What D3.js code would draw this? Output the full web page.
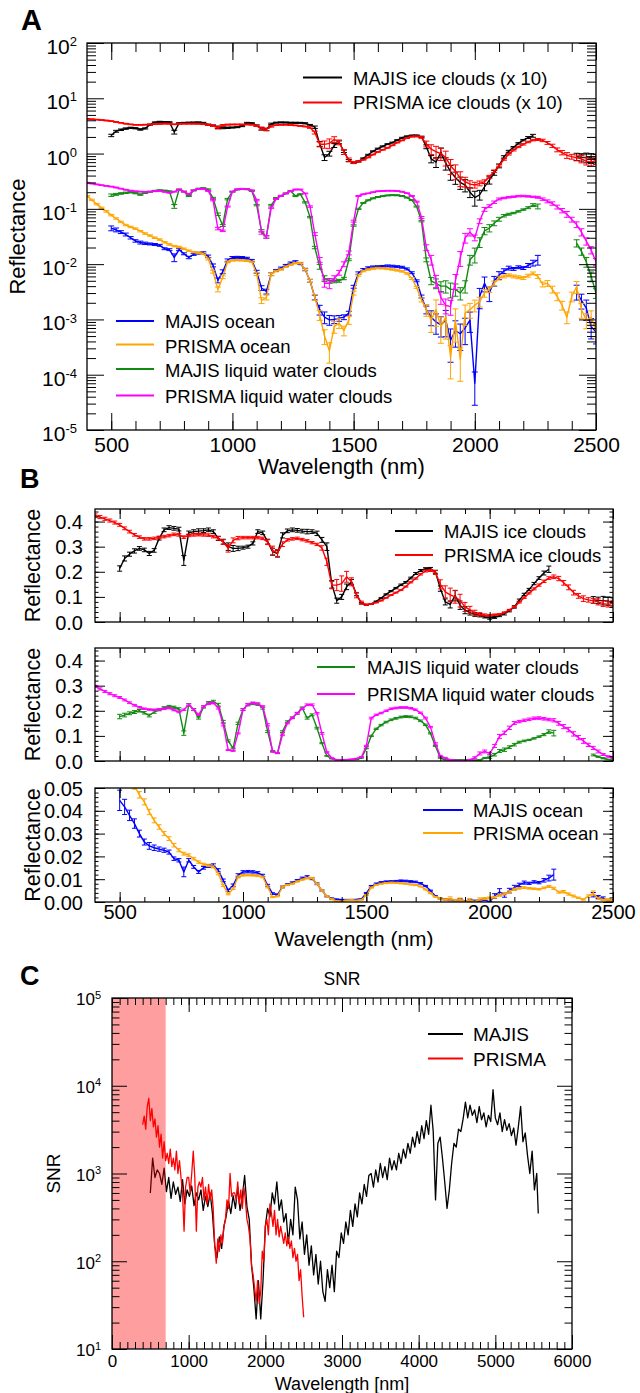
<!DOCTYPE html>
<html><head><meta charset="utf-8">
<script src="https://cdn.jsdelivr.net/npm/d3@7"></script>
<style>body{margin:0;background:#fff}</style>
</head><body><svg id="c" width="640" height="1393"></svg>
<script>
// ---------------- DATA ----------------
const prismaWl = [400,420,440,460,480,500,520,540,560,580,600,620,640,660,680,700,720,740,760,780,800,820,840,860,880,900,920,940,960,980,1000,1020,1040,1060,1080,1100,1120,1140,1160,1180,1200,1220,1240,1260,1280,1300,1320,1340,1360,1380,1400,1420,1440,1460,1480,1500,1520,1540,1560,1580,1600,1620,1640,1660,1680,1700,1720,1740,1760,1780,1800,1820,1840,1860,1880,1900,1920,1940,1960,1980,2000,2020,2040,2060,2080,2100,2120,2140,2160,2180,2200,2220,2240,2260,2280,2300,2320,2340,2360,2380,2400,2420,2440,2460,2480,2500];
const majisWl = [500,520,540,560,580,600,620,640,660,680,700,720,740,760,780,800,820,840,860,880,900,920,940,960,980,1000,1020,1040,1060,1080,1100,1120,1140,1160,1180,1200,1220,1240,1260,1280,1300,1320,1340,1360,1380,1400,1420,1440,1460,1480,1500,1520,1540,1560,1580,1600,1620,1640,1660,1680,1700,1720,1740,1760,1780,1800,1820,1840,1860,1880,1900,1920,1940,1960,1980,2000,2020,2040,2060,2080,2100,2120,2140,2160,2180,2200,2220,2240,2260,2280,2420,2440,2460,2480,2500];

const prismaIce = [.424,.418,.411,.404,.396,.387,.373,.360,.347,.338,
 .331,.331,.333,.337,.340,.344,.349,.347,.338,.345,
 .347,.348,.347,.346,.340,.333,.318,.293,.325,.334,
 .336,.336,.336,.336,.333,.318,.285,.275,.310,.327,
 .331,.333,.328,.323,.316,.309,.295,.240,.147,.147,
 .153,.180,.160,.107,.077,.069,.072,.077,.085,.096,
 .107,.117,.127,.141,.158,.173,.190,.203,.205,.197,
 .150,.120,.108,.100,.085,.060,.048,.036,.031,.028,
 .027,.029,.031,.038,.048,.060,.078,.097,.115,.132,
 .147,.162,.175,.180,.173,.156,.138,.117,.104,.093,
 .088,.084,.080,.073,.070,.075];
const prismaLiquid = [.297,.287,.277,.268,.260,.253,.243,.232,.222,.214,
 .208,.205,.204,.205,.208,.211,.203,.195,.204,.224,
 .205,.184,.217,.228,.231,.211,.144,.044,.040,.110,
 .204,.226,.231,.228,.217,.144,.037,.031,.104,.150,
 .172,.190,.208,.224,.224,.190,.110,.035,.012,.0045,
 .0045,.0055,.007,.010,.016,.060,.171,.184,.191,.200,
 .208,.211,.213,.213,.210,.204,.192,.171,.135,.070,
 .020,.012,.005,.0025,.0018,.0017,.005,.013,.030,.038,
 .030,.060,.098,.112,.132,.151,.157,.162,.166,.170,
 .171,.168,.165,.162,.150,.137,.125,.108,.093,.080,
 .064,.052,.038,.026,.018,.011];
const prismaOcean = [.170,.145,.122,.104,.090,.077,.067,.058,.051,.047,
 .0439,.0395,.0358,.0329,.0300,.0278,.0249,.0227,.0212,.0205,
 .0190,.0175,.0165,.0161,.0154,.0124,.0073,.0035,.0058,.0110,
 .0117,.0118,.0117,.0115,.0110,.0066,.0022,.0025,.0066,.0075,
 .0080,.0090,.0098,.0104,.0105,.0080,.0050,.0025,.0012,.0005,
 .00027,.00074,.00086,.00063,.00097,.0030,.0063,.0075,.0080,.0083,
 .0085,.0084,.0082,.0080,.0077,.0074,.0068,.0055,.0038,.00225,
 .0015,.00097,.0015,.00074,.0011,.00021,.00097,.00019,.0013,.0015,
 .0018,.0021,.0030,.0035,.0045,.0056,.0060,.0063,.0060,.0058,
 .0056,.0062,.0068,.0060,.0043,.0045,.0035,.0026,.0018,.0011,
 .0026,.0039,.0015,.00097,.0011,.00063];
const prismaRelErr = [.015,.015,.015,.015,.015,.015,.015,.015,.015,.015,
 .015,.015,.015,.015,.015,.015,.015,.015,.015,.015,
 .015,.015,.015,.015,.015,.02,.03,.05,.03,.02,
 .015,.015,.015,.015,.015,.03,.06,.05,.03,.015,
 .015,.015,.015,.015,.015,.015,.03,.06,.1,.15,
 .2,.12,.1,.1,.08,.04,.02,.015,.015,.015,
 .015,.015,.015,.015,.015,.015,.015,.02,.02,.04,
 .12,.2,.25,.25,.3,.3,.3,.3,.2,.15,
 .12,.1,.08,.06,.05,.04,.03,.03,.03,.03,
 .03,.03,.03,.04,.05,.06,.07,.08,.09,.12,
 .1,.12,.15,.15,.15,.15];

const majisIce = [.213,.253,.270,.283,.293,.287,.273,.285,.333,.367,
 .376,.373,.370,.245,.355,.360,.362,.364,.367,.360,
 .333,.320,.300,.293,.293,.296,.300,.313,.360,.355,
 .320,.280,.272,.345,.363,.367,.365,.362,.360,.360,
 .353,.327,.300,.150,.085,.100,.140,.160,.110,.075,
 .068,.072,.082,.095,.110,.123,.135,.148,.158,.175,
 .193,.205,.212,.213,.200,.133,.080,.070,.105,.067,
 .047,.037,.030,.027,.020,.016,.018,.025,.033,.045,
 .060,.087,.110,.130,.153,.175,.195,.210,null,null,
 .088,.086,.085,.083,.080];
const majisLiquid = [.177,.183,.190,.195,.200,.192,.181,.195,.204,.212,
 .217,.214,.208,.111,.224,.205,.171,.215,.232,.237,
 .224,.157,.080,.050,.150,.205,.224,.229,.226,.211,
 .117,.040,.031,.117,.157,.172,.190,.211,.171,.184,
 .131,.071,.020,.009,.0055,.005,.005,.005,.0055,.012,
 .050,.100,.128,.143,.155,.164,.170,.175,.177,.176,
 .171,.160,.144,.110,.060,.012,.005,.0045,.004,.004,
 .0035,.0035,.003,.004,.012,.015,.025,.040,.045,.055,
 .065,.075,.080,.084,.090,.097,.105,.117,.111,null,
 .024,.017,.011,.006,.003];
const majisOcean = [.0446,.0417,.0380,.0344,.0300,.0263,.0246,.0238,.0232,.0227,
 .0219,.0190,.0183,.0132,.0183,.0154,.0132,.0150,.0158,.0161,
 .0139,.0095,.0051,.0073,.0117,.0132,.0133,.0132,.0128,.0117,
 .0073,.0037,.0032,.0066,.0077,.0085,.0095,.0105,.0110,.0102,
 .0080,.0050,.0025,.0015,.0011,.00098,.0010,.00105,.0011,.0013,
 .0039,.0069,.0080,.0086,.0089,.0090,.0091,.0093,.0092,.0090,
 .0088,.0082,.0070,.0050,.0026,.0015,.0011,.0009,.0008,.00097,
 .00042,.00063,.00055,.0007,.00097,.00007,.0026,.0045,.0030,.0050,
 .0063,.0075,.0085,.0082,.0088,.0085,.0095,.0105,.0120,null,
 .0032,.0022,.0016,.00074,.0006];
const majisRelErr = [.05,.04,.03,.03,.025,.025,.03,.025,.02,.02,
 .02,.02,.02,.08,.02,.02,.025,.02,.02,.02,
 .025,.03,.05,.04,.03,.02,.02,.02,.02,.02,
 .03,.05,.05,.03,.02,.02,.02,.02,.025,.02,
 .025,.03,.05,.1,.12,.1,.08,.06,.05,.04,
 .03,.025,.02,.02,.02,.02,.02,.02,.02,.02,
 .02,.02,.02,.02,.03,.08,.15,.2,.2,.25,
 .3,.25,.25,.25,.2,.3,.2,.15,.15,.1,
 .08,.05,.04,.03,.03,.03,.04,.06,.1,0,
 .15,.15,.2,.2,.2];
const errScale = {ice: 1, liquid: 1, ocean: 2};
const iceFactorA = 10;

const majisSnrWl = [500,530,560,590,620,650,680,710,740,770,800,830,860,890,920,950,980,1010,1040,1070,1100,1130,1160,1190,1220,1250,1280,1310,1340,1370,1400,1430,1460,1490,1520,1550,1580,1610,1640,1670,1700,1730,1760,1790,1820,1850,1880,1910,1940,1970,2000,2030,2060,2090,2120,2150,2180,2210,2240,2270,2300,2330,2360,2390,2420,2450,2480,2510,2540,2570,2600,2630,2660,2690,2720,2750,2780,2810,2840,2870,2900,2930,2960,2990,3020,3050,3080,3110,3140,3170,3200,3230,3260,3290,3320,3350,3380,3410,3440,3470,3500,3530,3560,3590,3620,3650,3680,3710,3740,3770,3800,3830,3860,3890,3920,3950,3980,4010,4040,4070,4100,4130,4160,4190,4220,4250,4280,4310,4340,4370,4400,4430,4460,4490,4520,4550,4580,4610,4640,4670,4700,4730,4760,4790,4820,4850,4880,4910,4940,4970,5000,5030,5060,5090,5120,5150,5180,5210,5240,5270,5300,5330,5360,5390,5420,5450,5480,5510,5540,5560];
const majisSnr = [600,1500,900,1100,1000,750,1150,620,900,520,
 800,580,700,480,850,450,650,550,720,430,
 600,500,650,380,550,420,600,350,150,110,
 190,140,250,330,480,350,560,400,700,380,
 550,950,420,300,90,50,22,60,22,60,
 250,400,320,600,450,800,380,500,280,350,
 160,300,200,700,500,180,280,120,200,90,
 150,70,120,55,100,45,35,80,50,90,
 45,130,110,210,160,280,200,380,250,450,
 320,600,450,750,550,950,1000,700,1100,800,
 1300,900,1200,850,1500,1100,1400,1100,1700,1300,
 1900,1500,2200,1700,2600,2000,3000,2200,3500,2500,
 4000,2800,6000,3000,500,2200,2600,1500,800,400,
 650,1300,2200,2000,3200,3000,4200,6500,4300,6000,
 4600,5300,3800,5800,4100,4900,3400,4600,3900,9000,
 4300,3600,4900,3000,4100,3100,3700,2700,3300,2100,
 3400,5800,2300,2900,1600,1000,1800,650,1000,350];
const prismaSnr = [3600,4500,3200,5800,7200,4000,5500,3400,4200,2600,
 3500,2000,2800,1500,2300,1400,1700,1300,1900,1200,
 1500,1100,1800,1000,1400,900,600,220,700,900,
 900,600,1000,1800,900,220,700,800,700,900,
 500,700,450,750,500,650,400,150,95,180,
 130,200,160,250,300,500,400,1000,550,600,
 600,500,800,450,650,400,700,500,300,250,
 180,90,70,50,35,60,33,45,130,100,
 250,300,200,450,350,250,380,200,300,190,
 250,200,160,210,150,190,140,170,110,140,
 100,120,60,80,40,23];
const shadeRange = [0, 700];

const legendA1 = ["MAJIS ice clouds (x 10)", "PRISMA ice clouds (x 10)"];
const legendA2 = ["MAJIS ocean", "PRISMA ocean", "MAJIS liquid water clouds", "PRISMA liquid water clouds"];
const legendB1 = ["MAJIS ice clouds", "PRISMA ice clouds"];
const legendB2 = ["MAJIS liquid water clouds", "PRISMA liquid water clouds"];
const legendB3 = ["MAJIS ocean", "PRISMA ocean"];
const legendC = ["MAJIS", "PRISMA"];
const xTicksAB = [500,1000,1500,2000,2500];
const xMinorAB = [500,600,700,800,900,1000,1100,1200,1300,1400,1500,1600,1700,1800,1900,2000,2100,2200,2300,2400];
const xTicksC = [0,1000,2000,3000,4000,5000,6000];

// ---------------- STYLE / HELPERS ----------------
const FONT = '"Liberation Sans", Arial, Helvetica, sans-serif';
const COL = {black:'#000', red:'#ff0000', blue:'#0000ff', orange:'#ffa500', green:'#118a11', magenta:'#ff00ff'};
const svg = d3.select('#c');
const defs = svg.append('defs');

function logMinors(lo, hi){ const out=[]; for(let e=lo;e<hi;e++){ for(let m=2;m<=9;m++) out.push(m*Math.pow(10,e)); } return out; }
function linTicks(a,b,s){ const out=[]; const n=Math.round((b-a)/s); for(let i=0;i<=n;i++) out.push(+(a+i*s).toFixed(6)); return out; }

function frame(xs, ys, o){
  const [x0,x1]=xs.range(), [y0,y1]=ys.range();
  const g=svg.append('g');
  const mk=(fn,scale,vals,len,tr,fmt,pad,fs)=>{
    const a=fn(scale).tickValues(vals).tickSizeInner(-len).tickSizeOuter(0).tickPadding(pad||6).tickFormat(fmt||(()=>''));
    const s=g.append('g').attr('transform',tr).call(a);
    s.select('.domain').remove();
    s.selectAll('.tick line').attr('stroke','#000').attr('stroke-width',1);
    s.selectAll('text').attr('font-family',FONT).attr('font-size',fs||12).attr('fill','#000');
    return s;
  };
  mk(d3.axisBottom,xs,o.xMinor,o.xMinLen,`translate(0,${y0})`);
  const bx=mk(d3.axisBottom,xs,o.xMajor,o.xMajLen,`translate(0,${y0})`,o.xFmt,o.xPad,o.fs);
  mk(d3.axisTop,xs,o.xMinor,o.xMinLen,`translate(0,${y1})`);
  mk(d3.axisTop,xs,o.xMajor,o.xMajLen,`translate(0,${y1})`);
  mk(d3.axisLeft,ys,o.yMinor,o.yMinLen,`translate(${x0},0)`);
  const ly=mk(d3.axisLeft,ys,o.yMajor,o.yMajLen,`translate(${x0},0)`,o.yFmt,o.yPad,o.fsY||o.fs);
  mk(d3.axisRight,ys,o.yMinor,o.yMinLen,`translate(${x1},0)`);
  mk(d3.axisRight,ys,o.yMajor,o.yMajLen,`translate(${x1},0)`);
  g.append('rect').attr('x',x0).attr('y',y1).attr('width',x1-x0).attr('height',y0-y1)
    .attr('fill','none').attr('stroke','#000').attr('stroke-width',1.3);
  if(o.logLabels){
    ly.selectAll('text').attr('dy',o.yDy||'0.4em').each(function(d){
      const t=d3.select(this); t.text(null);
      t.append('tspan').text('10');
      t.append('tspan').attr('dy','-0.6em').attr('font-size',o.supFs).text(Math.round(Math.log10(d)));
    });
  } else if(o.yDy){ ly.selectAll('text').attr('dy',o.yDy); }
  return g;
}

function clipRect(id, xs, ys){
  const [x0,x1]=xs.range(), [y0,y1]=ys.range();
  defs.append('clipPath').attr('id',id).append('rect').attr('x',x0).attr('y',y1).attr('width',x1-x0).attr('height',y0-y1);
  return svg.append('g').attr('clip-path',`url(#${id})`);
}

function drawSeries(g, xs, ys, wl, vals, rel, k, mult, color, lw, cap){
  const pts=wl.map((w,i)=>({w, v: vals[i]==null?null:vals[i]*mult, r:(rel[i]||0)*k}));
  const line=d3.line().defined(d=>d.v!=null).x(d=>xs(d.w)).y(d=>ys(d.v));
  let p='';
  pts.forEach(d=>{
    if(d.v==null||d.r<=0) return;
    const lo=ys(Math.max(d.v*(1-d.r), d.v*0.05)), hi=ys(d.v*(1+d.r)), x=xs(d.w);
    p+=`M${x},${lo}V${hi}M${x-cap},${lo}H${x+cap}M${x-cap},${hi}H${x+cap}`;
  });
  g.append('path').attr('d',p).attr('fill','none').attr('stroke',color).attr('stroke-width',1);
  g.append('path').attr('d',line(pts)).attr('fill','none').attr('stroke',color).attr('stroke-width',lw).attr('stroke-linejoin','round');
}

function legend(items, colors, lx0, lx1, tx, rows, bases, fs){
  const g=svg.append('g');
  items.forEach((t,i)=>{
    g.append('line').attr('x1',lx0).attr('x2',lx1).attr('y1',rows[i]).attr('y2',rows[i]).attr('stroke',colors[i]).attr('stroke-width',2);
    g.append('text').attr('x',tx).attr('y',bases[i]).attr('font-family',FONT).attr('font-size',fs).attr('fill','#000').text(t);
  });
}
function label(txt,x,y,fs,opt){
  const t=svg.append('text').attr('x',x).attr('y',y).attr('font-family',FONT).attr('font-size',fs).attr('fill','#000').text(txt);
  if(opt&&opt.anchor) t.attr('text-anchor',opt.anchor);
  if(opt&&opt.bold) t.attr('font-weight','bold');
  if(opt&&opt.rot) t.attr('transform',`rotate(-90,${x},${y})`);
  return t;
}

// ---------------- PANEL A ----------------
const xA=d3.scaleLinear().domain([400,2500]).range([87,596]);
const yA=d3.scaleLog().domain([1e-5,1e2]).range([430,43]);
const gA=clipRect('clipA',xA,yA);
drawSeries(gA,xA,yA,majisWl,majisOcean,majisRelErr,errScale.ocean,1,COL.blue,1.4,3);
drawSeries(gA,xA,yA,prismaWl,prismaOcean,prismaRelErr,errScale.ocean,1,COL.orange,1.4,3);
drawSeries(gA,xA,yA,majisWl,majisLiquid,majisRelErr,errScale.liquid,1,COL.green,1.4,3);
drawSeries(gA,xA,yA,prismaWl,prismaLiquid,prismaRelErr,errScale.liquid,1,COL.magenta,1.4,3);
drawSeries(gA,xA,yA,majisWl,majisIce,majisRelErr,errScale.ice,iceFactorA,COL.black,1.4,3);
drawSeries(gA,xA,yA,prismaWl,prismaIce,prismaRelErr,errScale.ice,iceFactorA,COL.red,1.4,3);
frame(xA,yA,{xMajor:xTicksAB,xMinor:xMinorAB,xMajLen:17,xMinLen:9,xFmt:d3.format('d'),xPad:7,fs:21,
  yMajor:[1e-5,1e-4,1e-3,1e-2,1e-1,1,10,100],yMinor:logMinors(-5,2),yMajLen:17,yMinLen:9,yFmt:d=>String(d),yPad:10,
  logLabels:true,supFs:13,yDy:'0.5em'});
legend(legendA1,[COL.black,COL.red],303,342,353,[77.5,102.5],[85,109],18.5);
legend(legendA2,[COL.blue,COL.orange,COL.green,COL.magenta],116,154,165,[321,344.5,369,395.5],[328,352.5,377,403],18.5);
label('Reflectance',25,236.5,22,{anchor:'middle',rot:true});
label('Wavelength (nm)',341.5,474,22,{anchor:'middle'});
label('A',21,30,29,{bold:true});

// ---------------- PANEL B ----------------
const xB=d3.scaleLinear().domain([400,2500]).range([95,613]);
const yB1=d3.scaleLinear().domain([0,0.45]).range([622,509]);
const yB2=d3.scaleLinear().domain([0,0.45]).range([761,648]);
const yB3=d3.scaleLinear().domain([0,0.05]).range([902,788]);
const gB1=clipRect('clipB1',xB,yB1), gB2=clipRect('clipB2',xB,yB2), gB3=clipRect('clipB3',xB,yB3);
drawSeries(gB1,xB,yB1,majisWl,majisIce,majisRelErr,errScale.ice,1,COL.black,1.4,2.5);
drawSeries(gB1,xB,yB1,prismaWl,prismaIce,prismaRelErr,errScale.ice,1,COL.red,1.4,2.5);
drawSeries(gB2,xB,yB2,majisWl,majisLiquid,majisRelErr,errScale.liquid,1,COL.green,1.4,2.5);
drawSeries(gB2,xB,yB2,prismaWl,prismaLiquid,prismaRelErr,errScale.liquid,1,COL.magenta,1.4,2.5);
drawSeries(gB3,xB,yB3,majisWl,majisOcean,majisRelErr,errScale.ocean,1,COL.blue,1.4,2.5);
drawSeries(gB3,xB,yB3,prismaWl,prismaOcean,prismaRelErr,errScale.ocean,1,COL.orange,1.4,2.5);
const bOpt={xMajor:xTicksAB,xMinor:xMinorAB,xMajLen:10,xMinLen:5,fs:20,yMajLen:10,yMinLen:3.5,yPad:12,yDy:'0.35em'};
frame(xB,yB1,Object.assign({},bOpt,{yMajor:[0,.1,.2,.3,.4],yMinor:linTicks(0,0.44,0.02),yFmt:d3.format('.1f')}));
frame(xB,yB2,Object.assign({},bOpt,{yMajor:[0,.1,.2,.3,.4],yMinor:linTicks(0,0.44,0.02),yFmt:d3.format('.1f')}));
frame(xB,yB3,Object.assign({},bOpt,{yMajor:[0,.01,.02,.03,.04,.05],yMinor:linTicks(0,0.05,0.002),yFmt:d3.format('.2f'),xFmt:d3.format('d'),xPad:3}));
legend(legendB1,[COL.black,COL.red],395,433,444,[531,555],[537.5,561.5],18.5);
legend(legendB2,[COL.green,COL.magenta],317,355,367,[667,694],[674,701],18.5);
legend(legendB3,[COL.blue,COL.orange],423,463,473,[810,833],[816.5,840],18.5);
label('Reflectance',40,565.5,21.5,{anchor:'middle',rot:true});
label('Reflectance',40,704.5,21.5,{anchor:'middle',rot:true});
label('Reflectance',40,845,21.5,{anchor:'middle',rot:true});
label('Wavelength (nm)',354,946,21,{anchor:'middle'});
label('B',20,488,27,{bold:true});

// ---------------- PANEL C ----------------
const xC=d3.scaleLinear().domain([0,6000]).range([112,572]);
const yC=d3.scaleLog().domain([10,1e5]).range([1349,998]);
const gC=clipRect('clipC',xC,yC);
gC.append('path').attr('fill','none').attr('stroke',COL.black).attr('stroke-width',1.3).attr('stroke-linejoin','round')
  .attr('d',d3.line().x((d,i)=>xC(majisSnrWl[i])).y(d=>yC(d))(majisSnr));
gC.append('path').attr('fill','none').attr('stroke',COL.red).attr('stroke-width',1.3).attr('stroke-linejoin','round')
  .attr('d',d3.line().x((d,i)=>xC(prismaWl[i])).y(d=>yC(d))(prismaSnr));
gC.append('rect').attr('x',xC(shadeRange[0])).attr('y',yC(1e5)).attr('width',xC(shadeRange[1])-xC(shadeRange[0]))
  .attr('height',yC(10)-yC(1e5)).attr('fill','#ff0000').attr('fill-opacity',0.38);
frame(xC,yC,{xMajor:xTicksC,xMinor:linTicks(0,6000,100),xMajLen:14,xMinLen:7,xFmt:d3.format('d'),xPad:6,fs:17,
  yMajor:[10,100,1000,1e4,1e5],yMinor:logMinors(1,5),yMajLen:15,yMinLen:7.5,yFmt:d=>String(d),yPad:11,
  logLabels:true,supFs:11,yDy:'0.4em'});
legend(legendC,[COL.black,COL.red],428,463,473,[1034,1058.5],[1041,1065.5],19);
label('SNR',342,985,17.5,{anchor:'middle'});
label('SNR',60,1173.5,19,{anchor:'middle',rot:true});
label('Wavelength [nm]',342,1390,18,{anchor:'middle'});
label('C',20,985,27,{bold:true});
</script></body></html>
